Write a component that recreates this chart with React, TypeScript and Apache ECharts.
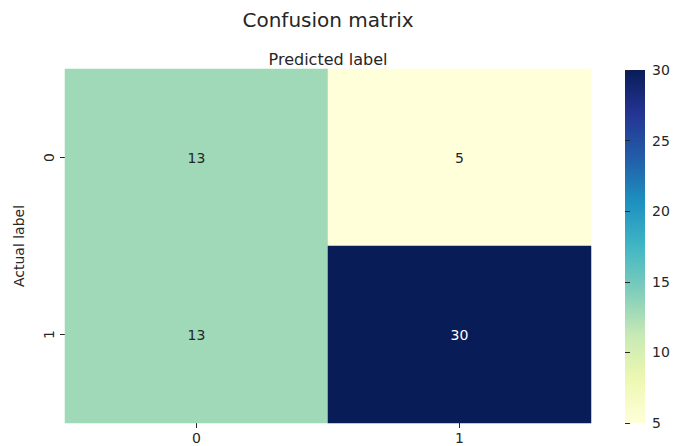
import React, { useEffect, useRef } from "react";
import * as echarts from "echarts";

const xCategories = ["0", "1"];
const yCategories = ["0", "1"];
// rows = actual label, columns = predicted label
const matrix = [
  [13, 5],
  [13, 30],
];
const colorMin = 5;
const colorMax = 30;
const colorInterval = 5;
const ylgnbu = [
  "#ffffd9",
  "#edf8b1",
  "#c7e9b4",
  "#7fcdbb",
  "#41b6c4",
  "#1d91c0",
  "#225ea8",
  "#253494",
  "#081d58",
];

const FONT = "DejaVu Sans";
const TEXT = "#262626";

export default function App() {
  const ref = useRef<HTMLDivElement>(null);
  useEffect(() => {
    if (!ref.current) return;
    const chart = echarts.init(ref.current, undefined, { renderer: "svg" });
    const data: any[] = [];
    matrix.forEach((row, yi) =>
      row.forEach((v, xi) => {
        data.push({
          value: [xi, yi, v],
          label: { color: v > 20 ? "#ffffff" : TEXT },
        });
      })
    );
    const gx = 65,
      gy = 69,
      gw = 526,
      gh = 354;
    const cbx = 625,
      cby = 70,
      cbw = 20,
      cbh = 353;
    chart.setOption({
      animation: false,
      backgroundColor: "#ffffff",
      textStyle: { fontFamily: FONT },
      grid: [
        { left: gx, top: gy, width: gw, height: gh },
        { left: cbx, top: cby, width: cbw, height: cbh },
      ],
      xAxis: [
        {
          type: "category",
          data: xCategories,
          gridIndex: 0,
          position: "bottom",
          axisLine: { show: false },
          axisTick: { show: true, length: 5, alignWithLabel: true, lineStyle: { color: TEXT } },
          axisLabel: { fontSize: 14, color: TEXT, fontFamily: FONT, margin: 8 },
          splitLine: { show: false },
        },
        { type: "value", gridIndex: 1, show: false, min: 0, max: 1 },
      ],
      yAxis: [
        {
          type: "category",
          data: yCategories,
          gridIndex: 0,
          inverse: true,
          axisLine: { show: false },
          axisTick: { show: true, length: 5, alignWithLabel: true, lineStyle: { color: TEXT } },
          axisLabel: { fontSize: 14, color: TEXT, fontFamily: FONT, rotate: 90, margin: 9 },
          name: "Actual label",
          nameLocation: "middle",
          nameRotate: 90,
          nameGap: 39,
          nameTextStyle: { fontSize: 14, color: TEXT, fontFamily: FONT },
          splitLine: { show: false },
        },
        {
          type: "value",
          gridIndex: 1,
          position: "right",
          min: colorMin,
          max: colorMax,
          interval: colorInterval,
          axisLine: { show: false },
          axisTick: { show: true, length: 5, lineStyle: { color: TEXT } },
          axisLabel: { fontSize: 14, color: TEXT, fontFamily: FONT, margin: 7 },
          splitLine: { show: false },
        },
      ],
      visualMap: {
        show: false,
        type: "continuous",
        min: colorMin,
        max: colorMax,
        seriesIndex: 0,
        dimension: 2,
        inRange: { color: ylgnbu },
      },
      graphic: [
        {
          type: "text",
          x: gx + gw / 2,
          y: 20,
          style: {
            text: "Confusion matrix",
            fontSize: 20,
            fontFamily: FONT,
            fill: TEXT,
            textAlign: "center",
            textVerticalAlign: "middle",
          },
        },
        {
          type: "text",
          x: gx + gw / 2,
          y: 59,
          style: {
            text: "Predicted label",
            fontSize: 16,
            fontFamily: FONT,
            fill: TEXT,
            textAlign: "center",
            textVerticalAlign: "middle",
          },
        },
        {
          type: "rect",
          shape: { x: cbx, y: cby, width: cbw, height: cbh },
          style: {
            fill: new echarts.graphic.LinearGradient(
              0,
              0,
              0,
              1,
              ylgnbu
                .slice()
                .reverse()
                .map((c, i) => ({ offset: i / (ylgnbu.length - 1), color: c }))
            ),
          },
          z: -1,
        },
      ],
      series: [
        {
          type: "heatmap",
          xAxisIndex: 0,
          yAxisIndex: 0,
          data,
          label: { show: true, fontSize: 14, fontFamily: FONT },
          itemStyle: { borderWidth: 0 },
        },
      ],
    });
    return () => chart.dispose();
  }, []);
  return (
    <div
      ref={ref}
      style={{ position: "fixed", left: 0, top: 0, width: 679, height: 446 }}
    />
  );
}
